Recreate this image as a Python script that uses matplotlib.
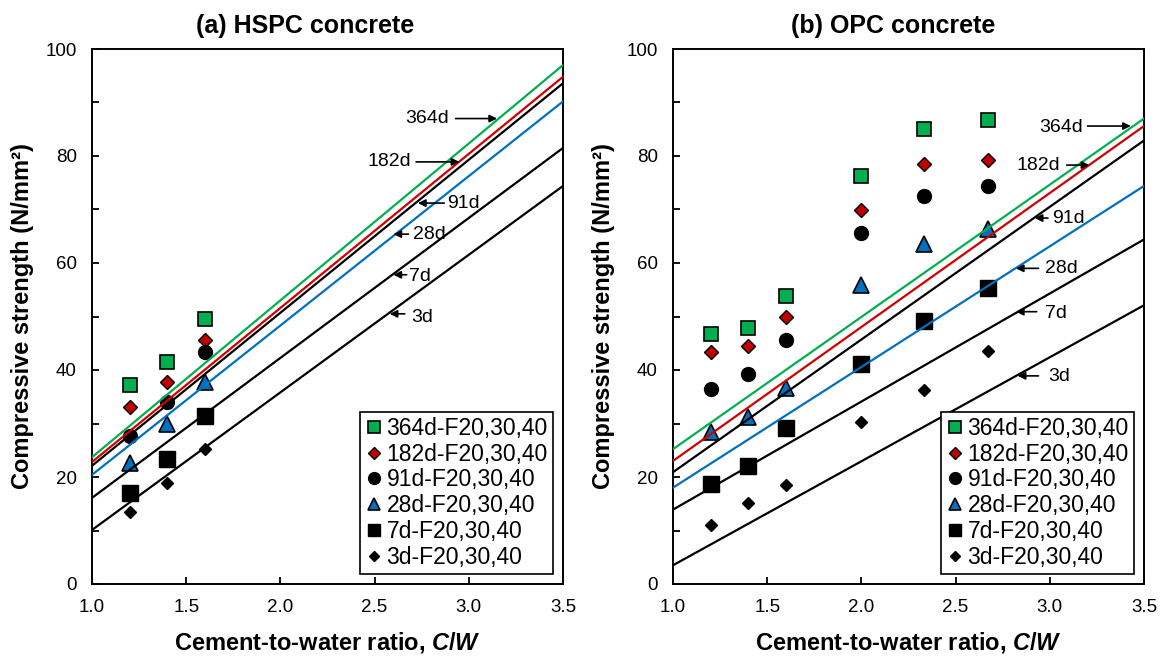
import numpy as np
import matplotlib
matplotlib.use("Agg")
import matplotlib.pyplot as plt

plt.rcParams['font.family'] = ['Liberation Sans', 'DejaVu Sans']
plt.rcParams['mathtext.fontset'] = 'custom'
plt.rcParams['mathtext.it'] = 'Liberation Sans:italic:bold'
plt.rcParams['mathtext.rm'] = 'Liberation Sans:bold'

# ---- data ----
ages = ['364d', '182d', '91d', '28d', '7d', '3d']

cw_hspc = [1.2, 1.4, 1.6]
hspc_364 = [37.2, 41.5, 49.5]
hspc_182 = [33.1, 37.8, 45.6]
hspc_91 = [27.7, 34.0, 43.4]
hspc_28 = [22.6, 29.9, 37.8]
hspc_7 = [17.0, 23.4, 31.4]
hspc_3 = [13.5, 18.9, 25.2]

cw_opc = [1.2, 1.4, 1.6, 2.0, 2.33, 2.67]
opc_364 = [46.7, 47.9, 53.8, 76.3, 85.0, 86.7]
opc_182 = [43.4, 44.4, 50.0, 69.9, 78.5, 79.3]
opc_91 = [36.4, 39.3, 45.6, 65.7, 72.5, 74.4]
opc_28 = [28.5, 31.3, 36.6, 55.9, 63.6, 66.3]
opc_7 = [18.7, 22.1, 29.1, 41.1, 49.2, 55.3]
opc_3 = [11.0, 15.1, 18.5, 30.2, 36.3, 43.6]

# fitted lines: strength at C/W = 1.0 and C/W = 3.5
fit_cw = [1.0, 3.5]
hspc_fit_lo = [23.7, 22.8, 22.1, 20.4, 16.1, 10.1]
hspc_fit_hi = [97.0, 94.8, 93.6, 90.2, 81.5, 74.4]
opc_fit_lo = [25.2, 23.0, 20.9, 18.0, 13.9, 3.5]
opc_fit_hi = [87.0, 85.6, 82.9, 74.4, 64.4, 52.1]

# ---- styles ----
GREEN, RED, BLUE = '#00B050', '#C00000', '#0070C0'
line_cols = [GREEN, '#D00000', 'black', BLUE, 'black', 'black']
mk = [dict(marker='s', ms=10.5, mfc=GREEN, mec='black', mew=1.2),
      dict(marker='D', ms=7.5, mfc=RED, mec='black', mew=1.0),
      dict(marker='o', ms=10, mfc='black', mec='black', mew=1.0),
      dict(marker='^', ms=11, mfc=BLUE, mec='black', mew=1.2),
      dict(marker='s', ms=11, mfc='black', mec='black', mew=1.0),
      dict(marker='D', ms=6, mfc='black', mec='black', mew=1.0)]

# annotation layout: (label, text x, text y, arrow tail x, arrow head x, arrow y)
ann_hspc = [('364d', 2.78, 87.0, 2.93, 3.15, 87.0),
            ('182d', 2.58, 78.9, 2.72, 2.95, 78.9),
            ('91d', 2.97, 71.2, 2.87, 2.73, 71.2),
            ('28d', 2.79, 65.4, 2.68, 2.60, 65.4),
            ('7d', 2.74, 57.5, 2.67, 2.60, 57.8),
            ('3d', 2.75, 49.8, 2.66, 2.58, 50.5)]
ann_opc = [('364d', 3.06, 85.3, 3.20, 3.43, 85.6),
           ('182d', 2.94, 78.3, 3.09, 3.21, 78.3),
           ('91d', 3.10, 68.4, 2.99, 2.92, 68.4),
           ('28d', 3.06, 59.0, 2.94, 2.82, 59.0),
           ('7d', 3.03, 50.6, 2.93, 2.82, 50.9),
           ('3d', 3.05, 38.7, 2.94, 2.83, 38.9)]

fig = plt.figure(figsize=(11.66, 6.59), dpi=100)
ax1 = fig.add_axes([92 / 1166, 75 / 659, 471 / 1166, 535 / 659])
ax2 = fig.add_axes([673 / 1166, 75 / 659, 471 / 1166, 535 / 659])

panels = [
    (ax1, cw_hspc, [hspc_364, hspc_182, hspc_91, hspc_28, hspc_7, hspc_3],
     hspc_fit_lo, hspc_fit_hi, ann_hspc, '(a) HSPC concrete', 305),
    (ax2, cw_opc, [opc_364, opc_182, opc_91, opc_28, opc_7, opc_3],
     opc_fit_lo, opc_fit_hi, ann_opc, '(b) OPC concrete', 893),
]

for ax, cw, series, lo, hi, anns, title, tx in panels:
    for i, age in enumerate(ages):
        ax.plot(fit_cw, [lo[i], hi[i]], color=line_cols[i], lw=1.6, zorder=3)
        ax.plot(cw, series[i], ls='none', label=age + '-F20,30,40', zorder=2, **mk[i])
    for lab, tx_, ty, x0, x1, ya in anns:
        ax.annotate('', xy=(x1, ya), xytext=(x0, ya),
                    arrowprops=dict(arrowstyle='-|>', color='black', lw=1.2,
                                    mutation_scale=11, shrinkA=0, shrinkB=0),
                    zorder=4)
        ax.text(tx_, ty, lab, fontsize=14, ha='center', va='center', zorder=4)

    ax.set_xlim(1.0, 3.5)
    ax.set_ylim(0, 100)
    ax.set_xticks(np.arange(1.0, 3.51, 0.5))
    ax.set_xticklabels(['1.0', '1.5', '2.0', '2.5', '3.0', '3.5'])
    ax.set_yticks(np.arange(0, 101, 20))
    ax.set_yticks(np.arange(10, 100, 20), minor=True)
    ax.tick_params(which='both', direction='in', length=5, width=1.3,
                   labelsize=13.5, top=False, right=False)
    ax.tick_params(axis='x', pad=11)
    ax.tick_params(axis='y', pad=11)
    for s in ax.spines.values():
        s.set_linewidth(1.4)
    ax.set_xlabel(r'Cement-to-water ratio, $\mathit{C/W}$', fontsize=17,
                  fontweight='bold', labelpad=10)
    ax.set_ylabel('Compressive strength (N/mm²)', fontsize=17,
                  fontweight='bold', labelpad=8)
    leg = ax.legend(loc='lower right', fontsize=16.5, frameon=True, fancybox=False,
                    framealpha=1, edgecolor='black', borderpad=0.22,
                    labelspacing=0.12, handlelength=0.8, handletextpad=0.15,
                    borderaxespad=0.45, markerscale=0.85)
    leg.get_frame().set_linewidth(1.2)
    fig.text(tx / 1166, 1 - 26 / 659, title, fontsize=18, fontweight='bold',
             ha='center', va='center')

fig.savefig('out.png', dpi=100)
